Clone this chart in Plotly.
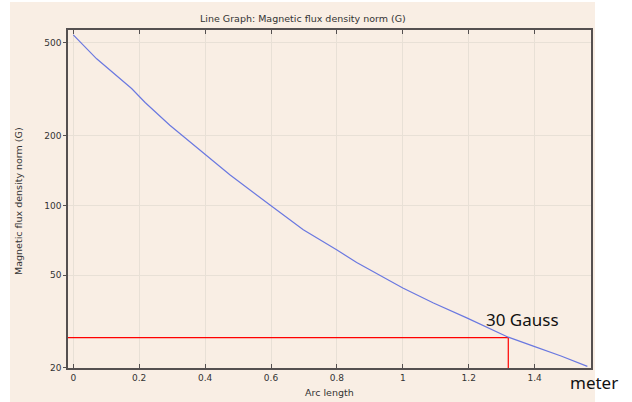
import math
import plotly.graph_objects as go

# ---- data ----
arc_length = [0, 0.071, 0.177, 0.218, 0.293, 0.402, 0.446, 0.476, 0.597, 0.698,
              0.799, 0.86, 1.0, 1.093, 1.194, 1.32, 1.396, 1.48, 1.56]
flux_norm = [541, 427, 318, 277, 221, 164.5, 146.6, 135, 100.4, 78.5,
             64.4, 56.8, 44.1, 38.0, 32.8, 27.1, 24.8, 22.5, 20.3]

threshold_x = 1.32
threshold_y = 27.0

x_ticks = [0, 0.2, 0.4, 0.6, 0.8, 1.0, 1.2, 1.4]
x_tick_labels = ["0", "0.2", "0.4", "0.6", "0.8", "1", "1.2", "1.4"]
y_ticks = [20, 50, 100, 200, 500]
y_tick_labels = ["20", "50", "100", "200", "500"]

x_range = [-0.016, 1.571]
y_range = [19.97, 568]

BEIGE = "#f9eee4"
AXIS = "#555050"
GRID = "#e8e0d6"
TICKFONT = dict(family="DejaVu Sans", size=9, color="#333333")

fig = go.Figure()

# red marker lines from the axis to the 30 Gauss point
fig.add_trace(go.Scatter(
    x=[x_range[0], threshold_x, threshold_x],
    y=[threshold_y, threshold_y, y_range[0]],
    mode="lines", line=dict(color="#ff0000", width=1.2),
    hoverinfo="skip", showlegend=False, cliponaxis=True))

fig.add_trace(go.Scatter(
    x=arc_length, y=flux_norm, mode="lines",
    line=dict(color="#6a78e0", width=1.2), showlegend=False))

L, R, T, B = 68, 41, 30, 34
W, H = 632, 402
pw, ph = W - L - R, H - T - B

def px_x(p):
    return (p - L) / pw

def px_y(p):
    return (H - B - p) / ph

fig.add_shape(type="rect", xref="paper", yref="paper",
              x0=px_x(10), x1=px_x(595), y0=px_y(402), y1=px_y(2),
              fillcolor=BEIGE, line=dict(width=0), layer="below")

fig.update_layout(
    width=W, height=H,
    margin=dict(l=L, r=R, t=T, b=B, pad=0),
    paper_bgcolor="white",
    plot_bgcolor="rgba(0,0,0,0)",
    showlegend=False,
)

fig.update_xaxes(
    range=x_range, tickvals=x_ticks, ticktext=x_tick_labels,
    showline=True, linecolor=AXIS, linewidth=1.5, mirror="ticks",
    ticks="inside", ticklen=4, tickcolor=AXIS, tickwidth=1,
    showgrid=True, gridcolor=GRID, gridwidth=1, zeroline=False,
    tickfont=TICKFONT)

fig.update_yaxes(
    type="log", range=[math.log10(y_range[0]), math.log10(y_range[1])],
    tickvals=y_ticks, ticktext=y_tick_labels,
    showline=True, linecolor=AXIS, linewidth=1.5, mirror=True,
    ticks="outside", ticklen=3, tickcolor=AXIS, tickwidth=1,
    showgrid=True, gridcolor=GRID, gridwidth=1, zeroline=False,
    tickfont=TICKFONT)

annos = [
    dict(text="Line Graph: Magnetic flux density norm (G)", x=px_x(303), y=px_y(18),
         font=dict(family="DejaVu Sans", size=9.5, color="#333333")),
    dict(text="Arc length", x=px_x(329), y=px_y(392),
         font=dict(family="DejaVu Sans", size=9.5, color="#333333")),
    dict(text="Magnetic flux density norm (G)", x=px_x(18), y=px_y(201), textangle=-90,
         font=dict(family="DejaVu Sans", size=9.5, color="#333333")),
    dict(text="30 Gauss", x=px_x(522), y=px_y(319.5),
         font=dict(family="Noto Sans", size=17, color="#111111")),
    dict(text="meter", x=px_x(594), y=px_y(383),
         font=dict(family="Noto Sans", size=17, color="#111111")),
]
for a in annos:
    fig.add_annotation(xref="paper", yref="paper", showarrow=False,
                       xanchor="center", yanchor="middle", **a)

fig.write_html("out.html", config={"displayModeBar": False},
               post_script="document.body.style.margin='0';document.body.style.padding='0';")
